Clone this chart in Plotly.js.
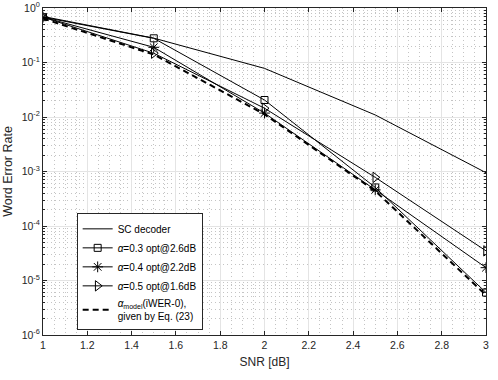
<!DOCTYPE html>
<html>
<head>
<meta charset="utf-8">
<script src="https://cdn.plot.ly/plotly-3.0.1.min.js"></script>
<style>
  html, body { margin: 0; padding: 0; background: #fff; }
  #plot { width: 498px; height: 380px; }
</style>
</head>
<body>
<div id="plot"></div>
<script>
// SNR points (dB)
var snr = [1, 1.5, 2, 2.5, 3];

// word error rates
var werSC = [0.70, 0.28, 0.078, 0.0109, 0.00095];
var werA03 = [0.68, 0.278, 0.0205, 5.1e-4, 6.0e-6];
var werA04 = [0.68, 0.19, 0.0118, 4.6e-4, 1.72e-5];
var werA05 = [0.68, 0.148, 0.0145, 7.8e-4, 3.5e-5];
var werModel = [0.64, 0.14, 0.0112, 4.4e-4, 5.4e-6];

// tick labels
var xTickVals = [1, 1.2, 1.4, 1.6, 1.8, 2, 2.2, 2.4, 2.6, 2.8, 3];
var xTickText = ["1", "1.2", "1.4", "1.6", "1.8", "2", "2.2", "2.4", "2.6", "2.8", "3"];
var yTickVals = [1e-6, 1e-5, 1e-4, 1e-3, 1e-2, 1e-1, 1];
var yTickText = ["10<sup>-6</sup>", "10<sup>-5</sup>", "10<sup>-4</sup>", "10<sup>-3</sup>",
                 "10<sup>-2</sup>", "10<sup>-1</sup>", "10<sup>0</sup>"];

var names = [
  "SC decoder",
  "<i>α</i>=0.3 opt@2.6dB",
  "<i>α</i>=0.4 opt@2.2dB",
  "<i>α</i>=0.5 opt@1.6dB",
  "<i>α</i><sub>model</sub>(iWER-0),<br>given by Eq. (23)"
];

var ink = "#000000";

var data = [
  {x: snr, y: werSC, name: names[0], mode: "lines",
   line: {color: ink, width: 1}},
  {x: snr, y: werA03, name: names[1], mode: "lines+markers",
   line: {color: ink, width: 1},
   marker: {symbol: "square-open", size: 7, color: ink, line: {width: 1, color: ink}}},
  {x: snr, y: werA04, name: names[2], mode: "lines+markers",
   line: {color: ink, width: 1},
   marker: {symbol: "asterisk-open", size: 9, color: ink, line: {width: 1, color: ink}}},
  {x: snr, y: werA05, name: names[3], mode: "lines+markers",
   line: {color: ink, width: 1},
   marker: {symbol: "triangle-right-open", size: 9, color: ink, line: {width: 1, color: ink}}},
  {x: snr, y: werModel, name: names[4], mode: "lines",
   line: {color: ink, width: 2, dash: "6px,4px"}}
];

var axisColor = "#262626";

var layout = {
  width: 498,
  height: 380,
  margin: {l: 43, r: 12, t: 8, b: 45},
  paper_bgcolor: "#ffffff",
  plot_bgcolor: "#ffffff",
  font: {family: "Liberation Sans, Arial, sans-serif", size: 10.5, color: axisColor},
  showlegend: true,
  xaxis: {
    title: {text: "SNR [dB]", font: {size: 12}, standoff: 8},
    range: [1, 3],
    tickmode: "array",
    tickvals: xTickVals,
    ticktext: xTickText,
    ticks: "inside",
    ticklen: 4,
    tickcolor: axisColor,
    showline: true,
    linecolor: axisColor,
    linewidth: 1,
    mirror: "ticks",
    showgrid: true,
    gridcolor: "#e4e4e4",
    gridwidth: 1,
    zeroline: false,
    automargin: false,
    minor: {tickmode: "linear", tick0: 1, dtick: 0.05, showgrid: true,
            gridcolor: "#c4c4c4", griddash: "1px,3px", gridwidth: 1}
  },
  yaxis: {
    title: {text: "Word Error Rate", font: {size: 12.5}, standoff: 6},
    type: "log",
    range: [-6, 0],
    tickmode: "array",
    tickvals: yTickVals,
    ticktext: yTickText,
    ticks: "inside",
    ticklen: 4,
    tickcolor: axisColor,
    showline: true,
    linecolor: axisColor,
    linewidth: 1,
    mirror: "ticks",
    showgrid: true,
    gridcolor: "#e4e4e4",
    gridwidth: 1,
    zeroline: false,
    automargin: false,
    minor: {dtick: "D1", ticks: "inside", ticklen: 2, tickcolor: axisColor,
            showgrid: true, gridcolor: "#c4c4c4", griddash: "1px,3px", gridwidth: 1}
  },
  legend: {
    x: 0.076,
    y: 0.372,
    xanchor: "left",
    yanchor: "top",
    bgcolor: "#ffffff",
    bordercolor: "#262626",
    borderwidth: 1,
    font: {size: 10, color: "#000000"},
    tracegroupgap: 0,
    itemwidth: 30
  }
};

Plotly.newPlot("plot", data, layout, {displayModeBar: false, staticPlot: true});
</script>
</body>
</html>
